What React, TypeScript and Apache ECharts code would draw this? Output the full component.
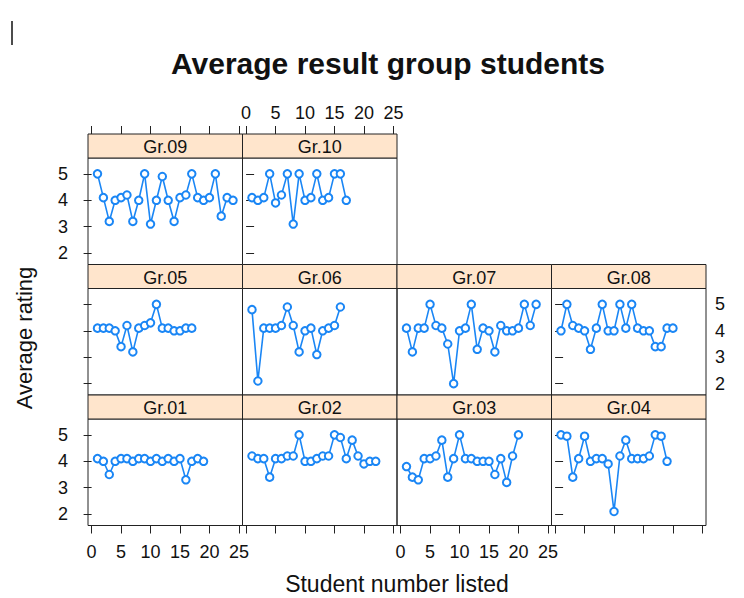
import React, { useEffect, useRef } from "react";
import * as echarts from "echarts";

const GROUPS = ["Gr.01","Gr.02","Gr.03","Gr.04","Gr.05","Gr.06","Gr.07","Gr.08","Gr.09","Gr.10"];
const GR01 = [4.1,4.0,3.5,4.0,4.1,4.1,4.0,4.1,4.1,4.0,4.1,4.0,4.1,4.0,4.1,3.3,4.0,4.1,4.0];
const GR02 = [4.2,4.1,4.1,3.4,4.1,4.1,4.2,4.2,5.0,4.0,4.0,4.1,4.2,4.2,5.0,4.9,4.1,4.8,4.2,3.9,4.0,4.0];
const GR03 = [3.8,3.4,3.3,4.1,4.1,4.2,4.8,3.4,4.1,5.0,4.1,4.1,4.0,4.0,4.0,3.5,4.1,3.2,4.2,5.0];
const GR04 = [5.0,4.95,3.4,4.1,4.95,4.0,4.1,4.1,3.9,2.1,4.2,4.8,4.1,4.1,4.1,4.2,5.0,4.95,4.0];
const GR05 = [4.1,4.1,4.1,4.0,3.4,4.2,3.2,4.1,4.2,4.3,5.0,4.1,4.1,4.0,4.0,4.1,4.1];
const GR06 = [4.8,2.1,4.1,4.1,4.1,4.2,4.9,4.2,3.2,4.0,4.1,3.1,4.0,4.1,4.2,4.9];
const GR07 = [4.1,3.2,4.1,4.1,5.0,4.2,4.1,3.5,2.0,4.0,4.1,5.0,3.3,4.1,4.0,3.2,4.2,4.0,4.0,4.1,5.0,4.2,5.0];
const GR08 = [4.0,5.0,4.2,4.1,4.0,3.3,4.1,5.0,4.0,4.0,5.0,4.1,5.0,4.1,4.0,4.0,3.4,3.4,4.1,4.1];
const GR09 = [5.0,4.1,3.2,4.0,4.1,4.2,3.2,4.0,5.0,3.1,4.0,4.9,4.0,3.2,4.1,4.2,5.0,4.1,4.0,4.1,5.0,3.4,4.1,4.0];
const GR10 = [4.1,4.0,4.1,5.0,3.9,4.2,5.0,3.1,5.0,4.0,4.1,5.0,4.0,4.1,5.0,5.0,4.0];
const VALUES = [GR01,GR02,GR03,GR04,GR05,GR06,GR07,GR08,GR09,GR10];
const X_TICKS = [0,5,10,15,20,25];
const Y_TICKS = [2,3,4,5];

const X_MIN = -0.61, X_MAX = 25.61, Y_MIN = 1.57, Y_MAX = 5.6;
const COL_X = [88, 242.5, 397, 551.5];
const PANEL_W = 154.5;
const ROW_STRIP_TOP = [395, 264.5, 134];
const STRIP_H = 24;
const PANEL_H = 106.5;
const FONT = "Liberation Sans, Arial, sans-serif";
const BLUE = "#1a86f5";

export default function App() {
  const ref = useRef<HTMLDivElement>(null);
  useEffect(() => {
    if (!ref.current) return;
    const chart = echarts.init(ref.current, null, { renderer: "svg" });
    const grids: any[] = [];
    const xAxes: any[] = [];
    const yAxes: any[] = [];
    const series: any[] = [];
    const graphics: any[] = [];
    GROUPS.forEach((name, g) => {
      const row = Math.floor(g / 4);
      const col = g % 4;
      const rowLen = row === 2 ? 2 : 4;
      const left = COL_X[col];
      const stripTop = ROW_STRIP_TOP[row];
      const top = stripTop + STRIP_H;
      grids.push({ left, top, width: PANEL_W, height: PANEL_H, show: true, borderColor: "#222", borderWidth: 1, backgroundColor: "transparent" });
      const isBottom = row === 0;
      const isTop = row === 2;
      const xTicks = isBottom || isTop;
      const xLabels = (isBottom && (col === 0 || col === 2)) || (isTop && col === 1);
      xAxes.push({
        gridIndex: g, type: "value", min: X_MIN, max: X_MAX,
        position: isTop ? "top" : "bottom", offset: isTop ? STRIP_H : 0,
        axisLine: { show: false },
        axisTick: { show: xTicks, length: 8, customValues: X_TICKS, lineStyle: { color: "#222", width: 1 } },
        axisLabel: { show: xLabels, customValues: X_TICKS, fontSize: 18, fontFamily: FONT, color: "#111", margin: isTop ? 12 : 17 },
        splitLine: { show: false },
      });
      const isLeft = col === 0;
      const isRight = col === rowLen - 1;
      const yLabels = (isLeft && row !== 1) || (isRight && row === 1);
      yAxes.push({
        gridIndex: g, type: "value", min: Y_MIN, max: Y_MAX,
        position: isRight ? "right" : "left",
        axisLine: { show: false },
        axisTick: { show: isLeft || isRight, length: 8, customValues: Y_TICKS, lineStyle: { color: "#222", width: 1 } },
        axisLabel: { show: yLabels, customValues: Y_TICKS, fontSize: 18, fontFamily: FONT, color: "#111", margin: isRight ? 9 : 20 },
        splitLine: { show: false },
      });
      series.push({
        type: "line", xAxisIndex: g, yAxisIndex: g,
        data: VALUES[g].map((v, k) => [k + 1, v]),
        symbol: "emptyCircle", symbolSize: 7.5,
        lineStyle: { color: BLUE, width: 1.6 },
        itemStyle: { color: BLUE, borderWidth: 1.2 },
        emphasis: { disabled: true },
      });
      graphics.push({
        type: "rect", shape: { x: left, y: stripTop, width: PANEL_W, height: STRIP_H },
        style: { fill: "#ffe5cc", stroke: "#222", lineWidth: 1 },
      });
      graphics.push({
        type: "text", x: left + PANEL_W / 2, y: stripTop + STRIP_H / 2 + 1,
        style: { text: name, align: "center", verticalAlign: "middle", fontSize: 18, fontFamily: FONT, fill: "#111" },
      });
    });
    graphics.push({ type: "line", shape: { x1: 12, y1: 21, x2: 12, y2: 45 }, style: { stroke: "#111", lineWidth: 1.5 } });
    graphics.push({
      type: "text", x: 388, y: 63,
      style: { text: "Average result group students", align: "center", verticalAlign: "middle", fontSize: 30, fontWeight: "bold", fontFamily: FONT, fill: "#111" },
    });
    graphics.push({
      type: "text", x: 397, y: 584,
      style: { text: "Student number listed", align: "center", verticalAlign: "middle", fontSize: 23, fontFamily: FONT, fill: "#111" },
    });
    graphics.push({
      type: "text", x: 24, y: 338, rotation: Math.PI / 2,
      style: { text: "Average rating", align: "center", verticalAlign: "middle", fontSize: 22, fontFamily: FONT, fill: "#111" },
    });
    chart.setOption({
      animation: false,
      backgroundColor: "#fff",
      grid: grids,
      xAxis: xAxes,
      yAxis: yAxes,
      series,
      graphic: graphics,
    });
    return () => chart.dispose();
  }, []);
  return <div ref={ref} style={{ position: "absolute", left: 0, top: 0, width: 744, height: 598 }} />;
}
